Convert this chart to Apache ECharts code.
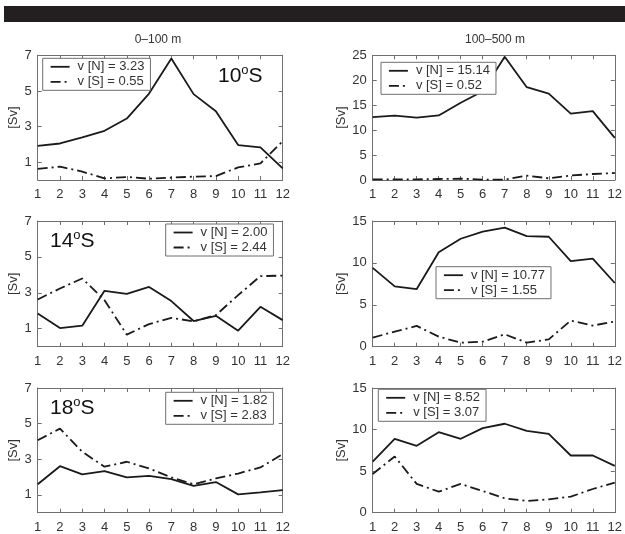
<!DOCTYPE html>
<html><head><meta charset="utf-8">
<script src="https://cdn.jsdelivr.net/npm/echarts@6/dist/echarts.min.js"></script>
<style>html,body{margin:0;padding:0;background:#fff}#c{width:625px;height:534px}</style>
</head><body><div id="c"></div>
<script>
// ---- data ----
const months = [1,2,3,4,5,6,7,8,9,10,11,12];
const columnTitles = ['0\u2013100 m', '100\u2013500 m'];
const latitudes = ['10', '14', '18'];

// 0-100 m
const n0_10 = [1.92, 2.05, 2.39, 2.76, 3.45, 4.85, 6.82, 4.82, 3.86, 1.96, 1.83, 0.65];
const s0_10 = [0.62, 0.75, 0.47, 0.09, 0.17, 0.07, 0.13, 0.19, 0.22, 0.71, 0.93, 2.18];
const n0_14 = [1.85, 1.04, 1.17, 3.11, 2.94, 3.33, 2.54, 1.43, 1.72, 0.89, 2.22, 1.48];
const s0_14 = [2.63, 3.24, 3.80, 2.59, 0.67, 1.26, 1.61, 1.41, 1.76, 2.87, 3.93, 3.96];
const n0_18 = [1.60, 2.61, 2.15, 2.33, 1.98, 2.07, 1.89, 1.51, 1.72, 1.03, 1.14, 1.27];
const s0_18 = [4.07, 4.72, 3.42, 2.58, 2.86, 2.48, 1.98, 1.60, 1.92, 2.20, 2.54, 3.29];
// 100-500 m
const n1_10 = [12.6, 12.9, 12.5, 12.95, 15.5, 17.8, 24.7, 18.6, 17.3, 13.3, 13.8, 8.45];
const s1_10 = [0.13, 0.13, 0.13, 0.20, 0.27, 0.07, 0.07, 0.87, 0.34, 0.90, 1.20, 1.40];
const n1_14 = [9.4, 7.2, 6.88, 11.28, 12.88, 13.72, 14.2, 13.2, 13.12, 10.2, 10.52, 7.6];
const s1_14 = [1.08, 1.80, 2.48, 1.20, 0.48, 0.60, 1.48, 0.48, 0.88, 3.12, 2.52, 3.00];
const n1_18 = [6.15, 8.89, 8.04, 9.69, 8.89, 10.17, 10.7, 9.85, 9.49, 6.88, 6.88, 5.63];
const s1_18 = [4.66, 6.76, 3.46, 2.53, 3.46, 2.61, 1.73, 1.41, 1.61, 1.93, 2.85, 3.62];

// legend labels (mean transports)
const legendN = ['v [N] = 3.23', 'v [N] = 15.14', 'v [N] = 2.00', 'v [N] = 10.77', 'v [N] = 1.82', 'v [N] = 8.52'];
const legendS = ['v [S] = 0.55', 'v [S] = 0.52', 'v [S] = 2.44', 'v [S] = 1.55', 'v [S] = 2.83', 'v [S] = 3.07'];

// y-axis ticks
const yTicksShallow = [1, 3, 5, 7];
const yMaxShallow = 7;
const yMaxDeep = [25, 15, 15];
const yIntervalDeep = 5;

// ---- layout ----
const FONT = '"Liberation Sans", Arial, Helvetica, sans-serif';
const AX = '#6f6f6f';
const TXT = '#333';
const LINE = '#1a1a1a';
const DASHDOT = [10, 4, 2, 4];

const panels = [
  {grid:{left:37.7, top:55.3, width:245, height:124.7}, n:n0_10, s:s0_10, deep:false, row:0, leg:{left:42.7, top:58.3}, tag:{left:218, top:64}},
  {grid:{left:372.7, top:55.3, width:245.6, height:124.7}, n:n1_10, s:s1_10, deep:true, row:0, leg:{left:381, top:62.3}},
  {grid:{left:37.7, top:221, width:245, height:125.7}, n:n0_14, s:s0_14, deep:false, row:1, leg:{left:165.7, top:224}, tag:{left:50, top:229}},
  {grid:{left:372.7, top:221, width:245.6, height:125.7}, n:n1_14, s:s1_14, deep:true, row:1, leg:{left:436, top:266.7}},
  {grid:{left:37.7, top:388, width:245, height:124.7}, n:n0_18, s:s0_18, deep:false, row:2, leg:{left:165.7, top:392.3}, tag:{left:50, top:396}},
  {grid:{left:372.7, top:388, width:245.6, height:124.7}, n:n1_18, s:s1_18, deep:true, row:2, leg:{left:378.3, top:389.3}}
];

const grid = [], xAxis = [], yAxis = [], series = [], legend = [], title = [];
panels.forEach((p, i) => {
  grid.push(Object.assign({containLabel:false}, p.grid));
  const xBase = {gridIndex:i, type:'value', min:1, max:12, interval:1,
    axisLine:{show:true, onZero:false, lineStyle:{color:AX, width:1}},
    axisTick:{show:true, inside:true, length:4, lineStyle:{color:AX}},
    splitLine:{show:false}};
  xAxis.push(Object.assign({}, xBase, {position:'bottom',
    axisLabel:{show:true, margin:8, fontSize:13, color:TXT, fontFamily:FONT}}));
  xAxis.push(Object.assign({}, xBase, {position:'top', axisLabel:{show:false}}));

  let yBase;
  if (!p.deep) {
    yBase = {gridIndex:i, type:'value', min:0, max:yMaxShallow,
      axisTick:{show:true, inside:true, length:4, lineStyle:{color:AX}, customValues:yTicksShallow}};
  } else {
    yBase = {gridIndex:i, type:'value', min:0, max:yMaxDeep[p.row], interval:yIntervalDeep,
      axisTick:{show:true, inside:true, length:4, lineStyle:{color:AX}}};
  }
  yBase.axisLine = {show:true, onZero:false, lineStyle:{color:AX, width:1}};
  yBase.splitLine = {show:false};
  const yLeft = Object.assign({}, yBase, {position:'left',
    name:'[Sv]', nameLocation:'middle', nameGap:18,
    nameTextStyle:{fontSize:13, color:TXT, fontFamily:FONT},
    axisLabel:{show:true, margin:6, fontSize:13, color:TXT, fontFamily:FONT}});
  if (!p.deep) yLeft.axisLabel.customValues = yTicksShallow;
  yAxis.push(yLeft);
  yAxis.push(Object.assign({}, yBase, {position:'right', axisLabel:{show:false}}));

  const xi = i * 2, yi = i * 2;
  series.push({type:'line', name:legendN[i], xAxisIndex:xi, yAxisIndex:yi,
    data:months.map((m, k) => [m, p.n[k]]), symbol:'none', animation:false,
    lineStyle:{color:LINE, width:1.8, type:'solid'}, itemStyle:{color:LINE}});
  series.push({type:'line', name:legendS[i], xAxisIndex:xi, yAxisIndex:yi,
    data:months.map((m, k) => [m, p.s[k]]), symbol:'none', animation:false,
    lineStyle:{color:LINE, width:1.8, type:DASHDOT}, itemStyle:{color:LINE}});

  legend.push({data:[legendN[i], legendS[i]], orient:'vertical', left:p.leg.left, top:p.leg.top,
    selectedMode:false, backgroundColor:'#fff', borderColor:AX, borderWidth:1,
    padding:[2, 6, 2, 7], itemGap:2, itemWidth:19, itemHeight:14,
    itemStyle:{opacity:0},
    lineStyle:{width:1.8},
    textStyle:{fontSize:13, color:TXT, fontFamily:FONT, padding:[0,0,0,3]}, z:10});

  if (p.tag) {
    title.push({text:'{a|' + latitudes[p.row] + '}{b|o}{a|S}', left:p.tag.left, top:p.tag.top, padding:0,
      textStyle:{fontWeight:'normal', rich:{
        a:{fontSize:21, fontWeight:'normal', color:'#111', fontFamily:FONT, lineHeight:24, verticalAlign:'middle'},
        b:{fontSize:13, fontWeight:'normal', color:'#111', fontFamily:FONT, lineHeight:24, verticalAlign:'top'}}}});
  }
});

const chart = echarts.init(document.getElementById('c'), null, {renderer:'canvas'});
chart.setOption({
  backgroundColor:'#fff',
  animation:false,
  grid, xAxis, yAxis, series, legend, title,
  graphic:[
    {type:'rect', shape:{x:4, y:6, width:621, height:16}, style:{fill:'#231f20'}},
    {type:'text', x:158, y:40, style:{text:columnTitles[0], fill:TXT, font:'12px ' + FONT, textAlign:'center', textVerticalAlign:'middle'}},
    {type:'text', x:495, y:40, style:{text:columnTitles[1], fill:TXT, font:'12px ' + FONT, textAlign:'center', textVerticalAlign:'middle'}}
  ]
});
</script></body></html>
